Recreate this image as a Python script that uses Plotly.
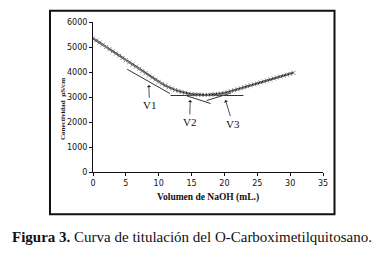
import plotly.graph_objects as go

# Titration data (volume NaOH in mL, conductivity in µS/cm)
vol = [0, 0.5, 1, 1.5, 2, 2.5, 3, 3.5, 4, 4.5, 5, 5.5, 6, 6.5, 7, 7.5, 8, 8.5, 9, 9.5,
       10, 10.5, 11, 11.5, 12, 12.5, 13, 13.5, 14, 14.5, 15, 15.5, 16, 16.5, 17, 17.5,
       18, 18.5, 19, 19.5, 20, 20.5, 21, 21.5, 22, 22.5, 23, 23.5, 24, 24.5, 25, 25.5,
       26, 26.5, 27, 27.5, 28, 28.5, 29, 29.5, 30, 30.5]
cond = [5350, 5262, 5175, 5088, 5000, 4912, 4825, 4738, 4650, 4562, 4475, 4388, 4300, 4212, 4125, 4038,
        3950, 3862, 3775, 3690, 3608, 3530, 3458, 3393, 3335, 3283, 3238, 3198, 3165, 3137,
        3116, 3101, 3092, 3087, 3085, 3088, 3095, 3105, 3120, 3138, 3160, 3193, 3230, 3270,
        3310, 3350, 3390, 3430, 3470, 3508, 3545, 3583, 3620, 3660, 3700, 3740, 3780, 3818,
        3855, 3893, 3930, 3970]

# Tangent construction lines
tanA_x = [5.2, 11.7]
tanA_y = [4110, 3140]
hor_x = [11.8, 22.9]
hor_y = [3060, 3060]
tanB_x = [14.0, 17.9]
tanB_y = [3070, 2740]
tanC_x = [17.3, 21.0]
tanC_y = [2860, 3160]

# Point labels: text, text position, arrow tip
lab_text = ["V1", "V2", "V3"]
lab_x = [8.6, 14.7, 21.25]
lab_y = [2668, 2000, 1936]
tip_x = [8.5, 14.8, 20.15]
tip_y = [3480, 2880, 2880]

x_ticks = [0, 5, 10, 15, 20, 25, 30, 35]
y_ticks = [0, 1000, 2000, 3000, 4000, 5000, 6000]

fig = go.Figure()

for xs, ys in [(tanA_x, tanA_y), (hor_x, hor_y), (tanB_x, tanB_y), (tanC_x, tanC_y)]:
    fig.add_trace(go.Scatter(x=xs, y=ys, mode="lines",
                             line=dict(color="#333333", width=1), hoverinfo="skip"))

fig.add_trace(go.Scatter(
    x=vol, y=cond, mode="lines+markers",
    line=dict(color="#1a1a1a", width=2),
    marker=dict(symbol="x-thin", size=4, line=dict(color="#8a8a8a", width=1)),
))

for t, lx, ly, tx, ty in zip(lab_text, lab_x, lab_y, tip_x, tip_y):
    fig.add_annotation(x=tx, y=ty, ax=lx, ay=ly, axref="x", ayref="y", xref="x", yref="y",
                       text=t, showarrow=True, arrowhead=1, arrowsize=0.9, arrowwidth=0.8,
                       arrowcolor="#222222",
                       font=dict(family="Liberation Serif", size=11, color="#111111"))

# Axis titles as annotations
fig.add_annotation(x=-0.1304, y=0.42, xref="paper", yref="paper", showarrow=False,
                   xanchor="center", yanchor="middle",
                   text="<b>Conectividad  µS/cm</b>", textangle=-90,
                   font=dict(family="Liberation Serif", size=7, color="#111111"))
fig.add_annotation(x=0.501, y=-0.169, xref="paper", yref="paper", showarrow=False,
                   xanchor="center", yanchor="middle",
                   text="<b>Volumen de NaOH (mL.)</b>",
                   font=dict(family="Liberation Serif", size=9.5, color="#111111"))
fig.add_annotation(x=0.4326, y=-0.431, xref="paper", yref="paper", showarrow=False,
                   xanchor="center", yanchor="middle",
                   text="<b>Figura 3.</b> Curva de titulación del O-Carboximetilquitosano.",
                   font=dict(family="Liberation Serif", size=15, color="#111111"))

# Frame around the chart
fig.add_shape(type="rect", xref="paper", yref="paper", x0=-0.187, x1=1.050, y0=-0.282, y1=1.075,
              line=dict(color="#111111", width=2))

fig.update_layout(
    width=390, height=261,
    margin=dict(l=93, r=67, t=22, b=89),
    paper_bgcolor="white", plot_bgcolor="white",
    showlegend=False,
    xaxis=dict(range=[0, 35], tickvals=x_ticks, showgrid=False, zeroline=False,
               showline=True, linecolor="#111111", linewidth=1, automargin=False,
               ticks="outside", ticklen=3, tickcolor="#111111",
               tickfont=dict(family="DejaVu Sans", size=8, color="#111111")),
    yaxis=dict(range=[0, 6000], tickvals=y_ticks, showgrid=False, zeroline=False,
               showline=True, linecolor="#111111", linewidth=1, automargin=False,
               ticks="outside", ticklen=3, tickcolor="#111111",
               tickfont=dict(family="DejaVu Sans", size=8, color="#111111")),
)

fig.write_html("out.html", config={"displayModeBar": False},
               post_script="document.body.style.margin='0';")
